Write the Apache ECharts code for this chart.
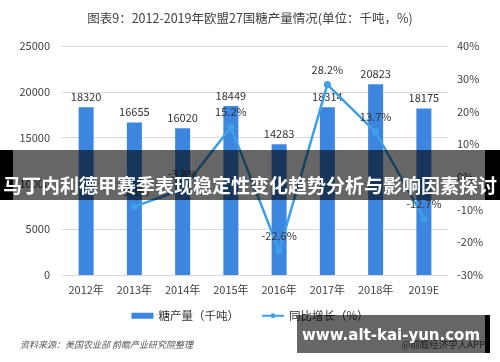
<!DOCTYPE html>
<html>
<head>
<meta charset="utf-8">
<script src="https://cdn.jsdelivr.net/npm/echarts@6/dist/echarts.min.js"></script>
<style>
html,body{margin:0;padding:0;background:#fff;}
#c{width:500px;height:362px;}
</style>
</head>
<body>
<div id="c"></div>
<script>
var categories = ['2012年','2013年','2014年','2015年','2016年','2017年','2018年','2019E'];
var production = [18320,16655,16020,18449,14283,18314,20823,18175];
var growth = [null,-9.1,-3.8,15.2,-22.6,28.2,13.7,-12.7];
var leftTicks = [0,5000,10000,15000,20000,25000];
var rightTicks = [-30,-20,-10,0,10,20,30,40];

var FONT = '"Noto Sans CJK SC","Noto Sans",sans-serif';
var chart = echarts.init(document.getElementById('c'), null, {renderer:'canvas'});
chart.setOption({
  animation:false,
  backgroundColor:'#ffffff',
  textStyle:{fontFamily:FONT},
  title:{
    text:'图表9：2012-2019年欧盟27国糖产量情况(单位：千吨，%)',
    left:'center', top:7,
    textStyle:{fontSize:12.5,fontWeight:'normal',color:'#404040',fontFamily:FONT}
  },
  legend:{
    top:305, left:'center', itemGap:22,
    textStyle:{fontSize:11.5,color:'#333',fontFamily:FONT},
    data:[
      {name:'糖产量（千吨）',icon:'rect',itemStyle:{color:'#3d86e0'}},
      {name:'同比增长（%）'}
    ],
    itemWidth:22,itemHeight:6
  },
  grid:{left:62,right:52,top:46,bottom:87},
  xAxis:{
    type:'category',data:categories,
    axisLine:{lineStyle:{color:'#d9d9d9'}},
    axisTick:{show:false},
    axisLabel:{color:'#404040',fontSize:11,margin:9,fontFamily:FONT}
  },
  yAxis:[
    {type:'value',min:leftTicks[0],max:leftTicks[leftTicks.length-1],interval:5000,
     axisLine:{show:false},axisTick:{show:false},
     axisLabel:{color:'#404040',fontSize:11,margin:12,formatter:function(v){return String(v);}},
     splitLine:{lineStyle:{color:'#d9d9d9'}}},
    {type:'value',min:rightTicks[0],max:rightTicks[rightTicks.length-1],interval:10,
     axisLine:{show:false},axisTick:{show:false},
     axisLabel:{color:'#404040',fontSize:11,margin:9,formatter:'{value}%'},
     splitLine:{show:false}}
  ],
  series:[
    {name:'糖产量（千吨）',type:'bar',data:production,barWidth:15,
     itemStyle:{color:'#3d86e0'},
     label:{show:true,position:'top',color:'#333',fontSize:11,distance:5}},
    {name:'同比增长（%）',type:'line',yAxisIndex:1,data:growth,
     symbol:'circle',symbolSize:7,
     lineStyle:{color:'#3fa0e8',width:2.5},
     itemStyle:{color:'#3fa0e8'},
     label:{show:true,position:'top',color:'#333',fontSize:11,distance:6,
       formatter:function(p){return p.value==null?'':p.value.toFixed(1)+'%';}}}
  ],
  graphic:[
    {type:'text',left:20,top:340,z:50,
     style:{text:'资料来源：美国农业部 前瞻产业研究院整理',fill:'#555',font:'italic 9px '+FONT}},
    {type:'text',right:15,top:340,z:50,
     style:{text:'@前瞻经济学人APP',fill:'#555',font:'9.5px '+FONT}},
    {type:'rect',shape:{x:0,y:150,width:500,height:50},z:100,style:{fill:'rgba(0,0,0,0.6)'}},
    {type:'rect',shape:{x:0,y:150,width:13,height:50},z:100,style:{fill:'#000'}},
    {type:'rect',shape:{x:485,y:150,width:15,height:50},z:100,style:{fill:'#000'}},
    {type:'text',x:250,y:186,z:101,
     style:{text:'马丁内利德甲赛季表现稳定性变化趋势分析与影响因素探讨',fill:'#fff',
       font:'bold 19px '+FONT,textAlign:'center',textVerticalAlign:'middle'}},
    {type:'rect',shape:{x:297,y:315,width:188,height:38},z:100,style:{fill:'rgba(0,0,0,0.6)'}},
    {type:'rect',shape:{x:485,y:315,width:5,height:38},z:100,style:{fill:'#000'}},
    {type:'text',x:391,y:336,z:101,
     style:{text:'www.alt-kai-yun.com',fill:'#fff',
       font:'bold 15px "DejaVu Sans","Noto Sans",sans-serif',textAlign:'center',textVerticalAlign:'middle'}}
  ]
});
</script>
</body>
</html>
